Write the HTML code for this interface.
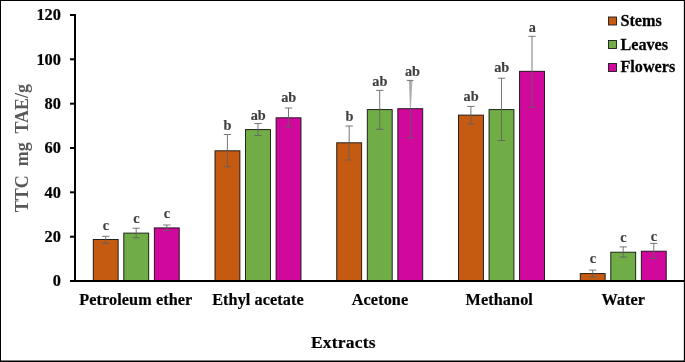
<!DOCTYPE html>
<html><head><meta charset="utf-8"><title>Chart</title>
<style>
html,body{margin:0;padding:0;background:#fff;}
body{width:685px;height:362px;overflow:hidden;}
svg{display:block;}
text{font-family:"Liberation Serif",serif;font-weight:bold;}
</style></head><body>
<svg width="685" height="362" viewBox="0 0 685 362">
<rect x="0" y="0" width="685" height="362" fill="#fff"/>
<rect x="93.25" y="239.5" width="24.9" height="41.6" fill="#c55a11" stroke="#111" stroke-width="0.9"/>
<rect x="123.79" y="233.1" width="24.9" height="48.0" fill="#70ad47" stroke="#111" stroke-width="0.9"/>
<rect x="154.33" y="227.9" width="24.9" height="53.2" fill="#d0099c" stroke="#111" stroke-width="0.9"/>
<rect x="215.00" y="150.8" width="24.9" height="130.3" fill="#c55a11" stroke="#111" stroke-width="0.9"/>
<rect x="245.54" y="129.6" width="24.9" height="151.5" fill="#70ad47" stroke="#111" stroke-width="0.9"/>
<rect x="276.08" y="117.8" width="24.9" height="163.3" fill="#d0099c" stroke="#111" stroke-width="0.9"/>
<rect x="336.75" y="142.8" width="24.9" height="138.3" fill="#c55a11" stroke="#111" stroke-width="0.9"/>
<rect x="367.29" y="109.6" width="24.9" height="171.5" fill="#70ad47" stroke="#111" stroke-width="0.9"/>
<rect x="397.83" y="108.7" width="24.9" height="172.4" fill="#d0099c" stroke="#111" stroke-width="0.9"/>
<rect x="458.50" y="115.1" width="24.9" height="166.0" fill="#c55a11" stroke="#111" stroke-width="0.9"/>
<rect x="489.04" y="109.6" width="24.9" height="171.5" fill="#70ad47" stroke="#111" stroke-width="0.9"/>
<rect x="519.58" y="71.3" width="24.9" height="209.8" fill="#d0099c" stroke="#111" stroke-width="0.9"/>
<rect x="580.25" y="273.6" width="24.9" height="7.5" fill="#c55a11" stroke="#111" stroke-width="0.9"/>
<rect x="610.79" y="252.2" width="24.9" height="28.9" fill="#70ad47" stroke="#111" stroke-width="0.9"/>
<rect x="641.33" y="251.2" width="24.9" height="29.9" fill="#d0099c" stroke="#111" stroke-width="0.9"/>
<path d="M105.7 236.3V243.4M102.0 236.3H109.4M102.0 243.4H109.4" stroke="#606060" stroke-opacity="0.85" stroke-width="1" fill="none"/>
<text transform="translate(105.9 229.9) scale(1 1.05)" font-size="14.3" text-anchor="middle" fill="#404040" stroke="#404040" stroke-width="0.15">c</text>
<path d="M136.2 228.2V237.8M132.5 228.2H139.9M132.5 237.8H139.9" stroke="#606060" stroke-opacity="0.85" stroke-width="1" fill="none"/>
<text transform="translate(136.4 223.2) scale(1 1.05)" font-size="14.3" text-anchor="middle" fill="#404040" stroke="#404040" stroke-width="0.15">c</text>
<path d="M166.8 225.0V230.5M163.1 225.0H170.5M163.1 230.5H170.5" stroke="#606060" stroke-opacity="0.85" stroke-width="1" fill="none"/>
<text transform="translate(167.0 218.1) scale(1 1.05)" font-size="14.3" text-anchor="middle" fill="#404040" stroke="#404040" stroke-width="0.15">c</text>
<path d="M227.4 134.5V166.9M223.8 134.5H231.1M223.8 166.9H231.1" stroke="#606060" stroke-opacity="0.85" stroke-width="1" fill="none"/>
<text transform="translate(227.6 129.7) scale(1 1.05)" font-size="14.3" text-anchor="middle" fill="#404040" stroke="#404040" stroke-width="0.15">b</text>
<path d="M258.0 123.5V135.5M254.3 123.5H261.7M254.3 135.5H261.7" stroke="#606060" stroke-opacity="0.85" stroke-width="1" fill="none"/>
<text transform="translate(258.2 119.8) scale(1 1.05)" font-size="14.3" text-anchor="middle" fill="#404040" stroke="#404040" stroke-width="0.15">ab</text>
<path d="M288.5 108.0V126.8M284.8 108.0H292.2M284.8 126.8H292.2" stroke="#606060" stroke-opacity="0.85" stroke-width="1" fill="none"/>
<text transform="translate(288.7 102.0) scale(1 1.05)" font-size="14.3" text-anchor="middle" fill="#404040" stroke="#404040" stroke-width="0.15">ab</text>
<path d="M349.2 126.0V160.0M345.5 126.0H352.9M345.5 160.0H352.9" stroke="#606060" stroke-opacity="0.85" stroke-width="1" fill="none"/>
<text transform="translate(349.4 120.6) scale(1 1.05)" font-size="14.3" text-anchor="middle" fill="#404040" stroke="#404040" stroke-width="0.15">b</text>
<path d="M379.7 90.4V129.3M376.0 90.4H383.4M376.0 129.3H383.4" stroke="#606060" stroke-opacity="0.85" stroke-width="1" fill="none"/>
<text transform="translate(379.9 85.6) scale(1 1.05)" font-size="14.3" text-anchor="middle" fill="#404040" stroke="#404040" stroke-width="0.15">ab</text>
<path d="M408.9 80.4H412.4L410.9 109H410.0Z" fill="#606060" fill-opacity="0.5" stroke="none"/>
<path d="M410.4 109V137.8M406.7 80.4H413.5M406.6 137.8H414.0" stroke="#606060" stroke-opacity="0.85" stroke-width="1" fill="none"/>
<text transform="translate(412.5 75.6) scale(1 1.05)" font-size="14.3" text-anchor="middle" fill="#404040" stroke="#404040" stroke-width="0.15">ab</text>
<path d="M470.9 106.4V123.9M467.2 106.4H474.6M467.2 123.9H474.6" stroke="#606060" stroke-opacity="0.85" stroke-width="1" fill="none"/>
<text transform="translate(471.1 100.6) scale(1 1.05)" font-size="14.3" text-anchor="middle" fill="#404040" stroke="#404040" stroke-width="0.15">ab</text>
<path d="M501.5 78.2V140.5M497.8 78.2H505.2M497.8 140.5H505.2" stroke="#606060" stroke-opacity="0.85" stroke-width="1" fill="none"/>
<text transform="translate(501.7 71.6) scale(1 1.05)" font-size="14.3" text-anchor="middle" fill="#404040" stroke="#404040" stroke-width="0.15">ab</text>
<path d="M532.0 36.3V107.2M528.3 36.3H535.7M528.3 107.2H535.7" stroke="#606060" stroke-opacity="0.85" stroke-width="1" fill="none"/>
<text transform="translate(532.2 31.7) scale(1 1.05)" font-size="14.3" text-anchor="middle" fill="#404040" stroke="#404040" stroke-width="0.15">a</text>
<path d="M592.7 270.1V277.0M589.0 270.1H596.4M589.0 277.0H596.4" stroke="#606060" stroke-opacity="0.85" stroke-width="1" fill="none"/>
<text transform="translate(592.9 263.4) scale(1 1.05)" font-size="14.3" text-anchor="middle" fill="#404040" stroke="#404040" stroke-width="0.15">c</text>
<path d="M623.2 246.9V257.1M619.5 246.9H626.9M619.5 257.1H626.9" stroke="#606060" stroke-opacity="0.85" stroke-width="1" fill="none"/>
<text transform="translate(623.4 241.9) scale(1 1.05)" font-size="14.3" text-anchor="middle" fill="#404040" stroke="#404040" stroke-width="0.15">c</text>
<path d="M653.8 243.4V258.5M650.1 243.4H657.5M650.1 258.5H657.5" stroke="#606060" stroke-opacity="0.85" stroke-width="1" fill="none"/>
<text transform="translate(654.0 241.2) scale(1 1.05)" font-size="14.3" text-anchor="middle" fill="#404040" stroke="#404040" stroke-width="0.15">c</text>
<path d="M75 14V282" stroke="#000" stroke-width="2" fill="none"/>
<path d="M74 281H685" stroke="#000" stroke-width="2" fill="none"/>
<path d="M70 281.0H75" stroke="#000" stroke-width="2"/>
<text transform="translate(61.0 286.2) scale(1 1.06)" font-size="16.4" text-anchor="end" fill="#000" stroke="#000" stroke-width="0.2">0</text>
<path d="M70 236.7H75" stroke="#000" stroke-width="2"/>
<text transform="translate(61.0 241.9) scale(1 1.06)" font-size="16.4" text-anchor="end" fill="#000" stroke="#000" stroke-width="0.2">20</text>
<path d="M70 192.3H75" stroke="#000" stroke-width="2"/>
<text transform="translate(61.0 197.6) scale(1 1.06)" font-size="16.4" text-anchor="end" fill="#000" stroke="#000" stroke-width="0.2">40</text>
<path d="M70 148.0H75" stroke="#000" stroke-width="2"/>
<text transform="translate(61.0 153.2) scale(1 1.06)" font-size="16.4" text-anchor="end" fill="#000" stroke="#000" stroke-width="0.2">60</text>
<path d="M70 103.7H75" stroke="#000" stroke-width="2"/>
<text transform="translate(61.0 108.9) scale(1 1.06)" font-size="16.4" text-anchor="end" fill="#000" stroke="#000" stroke-width="0.2">80</text>
<path d="M70 59.3H75" stroke="#000" stroke-width="2"/>
<text transform="translate(61.0 64.6) scale(1 1.06)" font-size="16.4" text-anchor="end" fill="#000" stroke="#000" stroke-width="0.2">100</text>
<path d="M70 15.0H75" stroke="#000" stroke-width="2"/>
<text transform="translate(61.0 20.2) scale(1 1.06)" font-size="16.4" text-anchor="end" fill="#000" stroke="#000" stroke-width="0.2">120</text>
<text x="135.8" y="305.3" font-size="16.2" letter-spacing="0.1" text-anchor="middle" fill="#000" stroke="#000" stroke-width="0.2">Petroleum ether</text>
<text x="258" y="305.3" font-size="16.2" letter-spacing="0.1" text-anchor="middle" fill="#000" stroke="#000" stroke-width="0.2">Ethyl acetate</text>
<text x="380" y="305.3" font-size="16.2" letter-spacing="0.1" text-anchor="middle" fill="#000" stroke="#000" stroke-width="0.2">Acetone</text>
<text x="499.3" y="305.3" font-size="16.2" letter-spacing="0.1" text-anchor="middle" fill="#000" stroke="#000" stroke-width="0.2">Methanol</text>
<text x="623.3" y="305.3" font-size="16.2" letter-spacing="0.1" text-anchor="middle" fill="#000" stroke="#000" stroke-width="0.2">Water</text>
<text x="343.4" y="347.5" font-size="17.5" letter-spacing="0.2" text-anchor="middle" fill="#000" stroke="#000" stroke-width="0.2">Extracts</text>
<text transform="translate(27.8 148.1) rotate(-90)" font-size="18" text-anchor="middle" fill="#595959" xml:space="preserve" style="white-space:pre">TTC  mg  TAE/g</text>
<rect x="608.5" y="17.0" width="8" height="8" fill="#c55a11" stroke="#1a1a1a" stroke-width="0.9"/>
<text transform="translate(620.4 26.4) scale(1 1.04)" font-size="16.2" fill="#000" stroke="#000" stroke-width="0.25">Stems</text>
<rect x="608.5" y="40.5" width="8" height="8" fill="#70ad47" stroke="#1a1a1a" stroke-width="0.9"/>
<text transform="translate(620.4 49.5) scale(1 1.04)" font-size="16.2" fill="#000" stroke="#000" stroke-width="0.25">Leaves</text>
<rect x="608.5" y="63.5" width="8" height="8" fill="#d0099c" stroke="#1a1a1a" stroke-width="0.9"/>
<text transform="translate(620.4 72.3) scale(1 1.04)" font-size="16.2" fill="#000" stroke="#000" stroke-width="0.25">Flowers</text>
<rect x="0" y="0" width="685" height="1" fill="#000"/><rect x="0" y="0" width="1" height="362" fill="#000"/><rect x="683.85" y="0" width="1.15" height="362" fill="#000"/><rect x="0" y="360.5" width="685" height="1.5" fill="#000"/>
</svg></body></html>
